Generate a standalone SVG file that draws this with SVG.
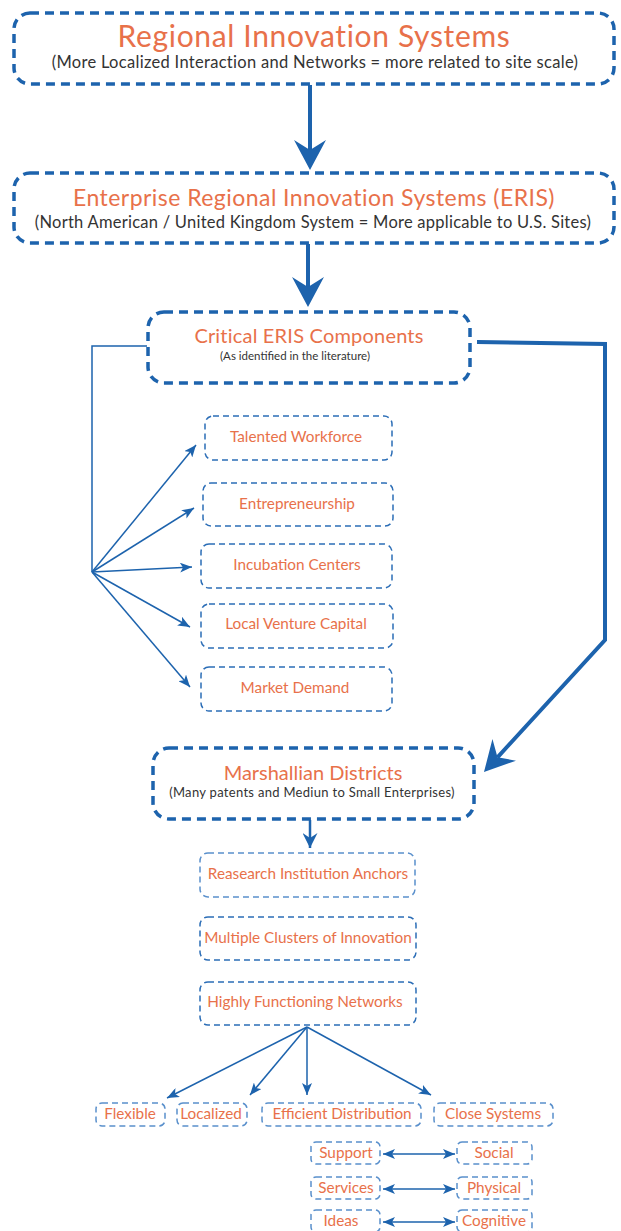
<svg xmlns="http://www.w3.org/2000/svg" width="621" height="1231" viewBox="0 0 621 1231">
  <defs>
    <style>
      .big { fill: none; stroke: #1d63ad; stroke-width: 3.5; stroke-dasharray: 9 6; }
      .small { fill: none; stroke: #2b6db6; stroke-width: 1.5; stroke-dasharray: 6 4; }
      .light { fill: none; stroke: #5a90cc; stroke-width: 1.5; stroke-dasharray: 6 4; }
      .head { font-family: Lato, "Open Sans", sans-serif; fill: #e8714a; text-anchor: middle; }
      .sub { font-family: Lato, "Open Sans", sans-serif; fill: #333333; text-anchor: middle; }
      .lbl { font-family: Lato, "Open Sans", sans-serif; fill: #e8714a; text-anchor: middle; font-size: 15.3px; }
      .thick { fill: none; stroke: #1d63ad; stroke-width: 4; }
      .thin { fill: none; stroke: #1d63ad; stroke-width: 1.5; }
    </style>
    <marker id="bigHead" markerUnits="userSpaceOnUse" markerWidth="30" markerHeight="32" viewBox="0 0 30 32" refX="10" refY="16" orient="auto">
      <path d="M0,0 L30,16 L0,32 L10,16 Z" fill="#1d63ad"/>
    </marker>
    <marker id="midHead" markerUnits="userSpaceOnUse" markerWidth="15" markerHeight="15" viewBox="0 0 15 15" refX="15" refY="7.5" orient="auto">
      <path d="M0,0 L15,7.5 L0,15 L5,7.5 Z" fill="#1d63ad"/>
    </marker>
    <marker id="smallHead" markerUnits="userSpaceOnUse" markerWidth="12" markerHeight="10" viewBox="0 0 12 10" refX="12" refY="5" orient="auto-start-reverse">
      <path d="M0,0 L12,5 L0,10 L3,5 Z" fill="#1d63ad"/>
    </marker>
  </defs>

  <rect width="621" height="1231" fill="#ffffff"/>

  <!-- connectors -->
  <g id="connectors">
    <path class="thick" d="M310,85 L310,150" marker-end="url(#bigHead)"/>
    <path class="thick" d="M308,244 L308,287" marker-end="url(#bigHead)"/>
    <path class="thick" d="M477,342 L605,344 L605,640 L497.5,757.3" marker-end="url(#bigHead)"/>
    <path class="thin" d="M147,346 L92,346 L92,572"/>
    <path class="thin" d="M92,572 L196,445" marker-end="url(#smallHead)"/>
    <path class="thin" d="M92,572 L194,508" marker-end="url(#smallHead)"/>
    <path class="thin" d="M92,572 L192,567" marker-end="url(#smallHead)"/>
    <path class="thin" d="M92,572 L190,627" marker-end="url(#smallHead)"/>
    <path class="thin" d="M92,572 L190,687" marker-end="url(#smallHead)"/>
    <path class="thick" style="stroke-width:2.5" d="M310,820 L310,848" marker-end="url(#midHead)"/>
    <path class="thin" d="M307,1027 L167,1098" marker-end="url(#smallHead)"/>
    <path class="thin" d="M307,1027 L250,1095" marker-end="url(#smallHead)"/>
    <path class="thin" d="M307,1027 L307,1095" marker-end="url(#smallHead)"/>
    <path class="thin" d="M307,1027 L431,1095" marker-end="url(#smallHead)"/>
    <path class="thin" d="M383,1154 L455,1154" marker-start="url(#smallHead)" marker-end="url(#smallHead)"/>
    <path class="thin" d="M383,1189 L455,1189" marker-start="url(#smallHead)" marker-end="url(#smallHead)"/>
    <path class="thin" d="M383,1222 L455,1222" marker-start="url(#smallHead)" marker-end="url(#smallHead)"/>
  </g>

  <!-- main stages -->
  <g id="ris">
    <rect class="big" x="14" y="13" width="600" height="71" rx="16"/>
    <text class="head" x="314" y="47" font-size="30" letter-spacing="0.65">Regional Innovation Systems</text>
    <text class="sub" x="315" y="68" font-size="16.5" letter-spacing="0.3">(More Localized Interaction and Networks = more related to site scale)</text>
  </g>
  <g id="eris">
    <rect class="big" x="14" y="173" width="600" height="70" rx="16"/>
    <text class="head" x="314" y="206" font-size="23" letter-spacing="0.45">Enterprise Regional Innovation Systems (ERIS)</text>
    <text class="sub" x="313" y="228" font-size="16.5" letter-spacing="0.25">(North American / United Kingdom System = More applicable to U.S. Sites)</text>
  </g>
  <g id="components">
    <rect class="big" x="148" y="312" width="322" height="71" rx="16"/>
    <text class="head" x="309" y="343" font-size="20" letter-spacing="0.2">Critical ERIS Components</text>
    <text class="sub" x="295" y="360" font-size="11.5">(As identified in the literature)</text>
  </g>

  <!-- components -->
  <g id="talent">
    <rect class="small" x="205" y="416" width="187" height="44" rx="8"/>
    <text class="lbl" x="296" y="442">Talented Workforce</text>
  </g>
  <g id="entrepreneurship">
    <rect class="small" x="203" y="483" width="190" height="43" rx="8"/>
    <text class="lbl" x="297" y="509">Entrepreneurship</text>
  </g>
  <g id="incubation">
    <rect class="small" x="201" y="544" width="191" height="44" rx="8"/>
    <text class="lbl" x="297" y="570">Incubation Centers</text>
  </g>
  <g id="venture">
    <rect class="small" x="201" y="604" width="192" height="44" rx="8"/>
    <text class="lbl" x="296" y="629">Local Venture Capital</text>
  </g>
  <g id="demand">
    <rect class="small" x="201" y="667" width="191" height="44" rx="8"/>
    <text class="lbl" x="295" y="693">Market Demand</text>
  </g>

  <!-- districts -->
  <g id="marshallian">
    <rect class="big" x="153" y="748" width="321" height="71" rx="16"/>
    <text class="head" x="313" y="780" font-size="20">Marshallian Districts</text>
    <text class="sub" x="312" y="797" font-size="13" letter-spacing="0.3">(Many patents and Mediun to Small Enterprises)</text>
  </g>
  <g id="anchors">
    <rect class="light" x="200" y="853" width="215" height="44" rx="8"/>
    <text class="lbl" x="308" y="879">Reasearch Institution Anchors</text>
  </g>
  <g id="clusters">
    <rect class="small" x="200" y="917" width="216" height="43" rx="8"/>
    <text class="lbl" x="308" y="943">Multiple Clusters of Innovation</text>
  </g>
  <g id="networks">
    <rect class="small" x="200" y="982" width="216" height="43" rx="8"/>
    <text class="lbl" x="305" y="1007">Highly Functioning Networks</text>
  </g>

  <!-- network qualities -->
  <g id="flexible">
    <rect class="light" x="96" y="1103" width="69" height="23" rx="6"/>
    <text class="lbl" x="130" y="1119">Flexible</text>
  </g>
  <g id="localized">
    <rect class="light" x="177" y="1103" width="70" height="23" rx="6"/>
    <text class="lbl" x="211" y="1119">Localized</text>
  </g>
  <g id="efficient">
    <rect class="light" x="262" y="1103" width="159" height="23" rx="6"/>
    <text class="lbl" x="342" y="1119">Efficient Distribution</text>
  </g>
  <g id="close">
    <rect class="light" x="434" y="1103" width="119" height="23" rx="6"/>
    <text class="lbl" x="493" y="1119">Close Systems</text>
  </g>

  <!-- paired flows -->
  <g id="support">
    <rect class="light" x="311" y="1142" width="69" height="22" rx="5"/>
    <text class="lbl" x="346" y="1158">Support</text>
  </g>
  <g id="social">
    <rect class="light" x="457" y="1142" width="75" height="22" rx="5"/>
    <text class="lbl" x="494" y="1158">Social</text>
  </g>
  <g id="services">
    <rect class="light" x="311" y="1177" width="69" height="22" rx="5"/>
    <text class="lbl" x="346" y="1193">Services</text>
  </g>
  <g id="physical">
    <rect class="light" x="457" y="1177" width="75" height="22" rx="5"/>
    <text class="lbl" x="494" y="1193">Physical</text>
  </g>
  <g id="ideas">
    <rect class="light" x="311" y="1210" width="69" height="22" rx="5"/>
    <text class="lbl" x="341" y="1226">Ideas</text>
  </g>
  <g id="cognitive">
    <rect class="light" x="457" y="1210" width="75" height="22" rx="5"/>
    <text class="lbl" x="494" y="1226">Cognitive</text>
  </g>
</svg>
